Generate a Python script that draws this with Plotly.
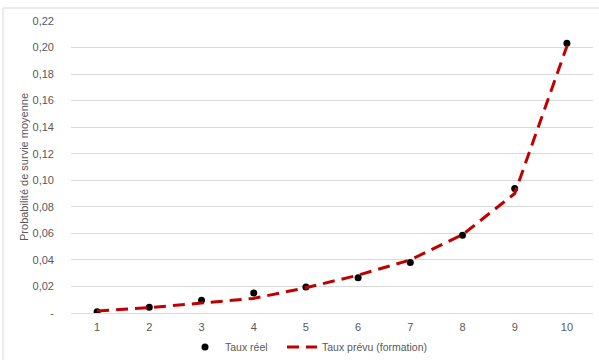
import plotly.graph_objects as go

years = [1, 2, 3, 4, 5, 6, 7, 8, 9, 10]
taux_reel = [0.001, 0.0043, 0.0096, 0.0150, 0.0195, 0.0265, 0.0380, 0.0586, 0.0938, 0.2032]
taux_prevu = [0.0015, 0.0040, 0.0075, 0.0110, 0.0190, 0.0285, 0.0400, 0.0590, 0.0900, 0.2010]
y_ticks = [0, 0.02, 0.04, 0.06, 0.08, 0.10, 0.12, 0.14, 0.16, 0.18, 0.20, 0.22]
y_labels = ["-"] + [f"{v:.2f}".replace(".", ",") for v in y_ticks[1:]]

FONT = "Liberation Sans, Arial, sans-serif"
GRAY = "#595959"

fig = go.Figure()
fig.add_trace(go.Scatter(
    x=years, y=taux_reel, mode="markers", name="Taux réel",
    marker=dict(color="black", size=7), legend="legend",
))
fig.add_trace(go.Scatter(
    x=years, y=taux_prevu, mode="lines", name="Taux prévu (formation)",
    line=dict(color="#C00000", width=3, dash="12px,7px"), legend="legend2",
))

leg_common = dict(orientation="h", xanchor="left", xref="container",
                  yref="container", y=(360 - 347) / 360, yanchor="middle",
                  font=dict(size=10.5, color=GRAY), itemwidth=30,
                  bgcolor="rgba(0,0,0,0)")

fig.update_layout(
    width=599, height=360,
    margin=dict(l=71, r=6, t=21, b=47, autoexpand=False),
    paper_bgcolor="white", plot_bgcolor="white",
    font=dict(family=FONT, size=11, color=GRAY),
    showlegend=True,
    legend=dict(x=185 / 599, **leg_common),
    legend2=dict(x=282 / 599, **leg_common),
    xaxis=dict(
        range=[0.5, 10.5], tickmode="array", tickvals=years,
        ticktext=[str(v) for v in years], showgrid=False, zeroline=False,
        showline=False, ticks="", tickfont=dict(size=11, color=GRAY),
        automargin=False, ticklabelstandoff=6,
    ),
    yaxis=dict(
        range=[0, 0.22], tickmode="array", tickvals=y_ticks, ticktext=y_labels,
        showgrid=True, gridcolor="#D9D9D9", gridwidth=1, zeroline=True,
        zerolinecolor="#D9D9D9", zerolinewidth=1, showline=False, ticks="",
        tickfont=dict(size=11, color=GRAY), ticklabelstandoff=16,
        automargin=False,
        title=dict(text="Probabilité de survie moyenne", font=dict(size=11, color=GRAY), standoff=1),
    ),
    shapes=[
        dict(type="line", xref="paper", yref="paper",
             x0=-68/522, x1=1.05, y0=(313-8)/292, y1=(313-8)/292,
             line=dict(color="#D9D9D9", width=1)),
        dict(type="line", xref="paper", yref="paper",
             x0=-68/522, x1=-68/522, y0=-0.2, y1=(313-8)/292,
             line=dict(color="#D9D9D9", width=1)),
    ],
)

fig.write_html("out.html")
